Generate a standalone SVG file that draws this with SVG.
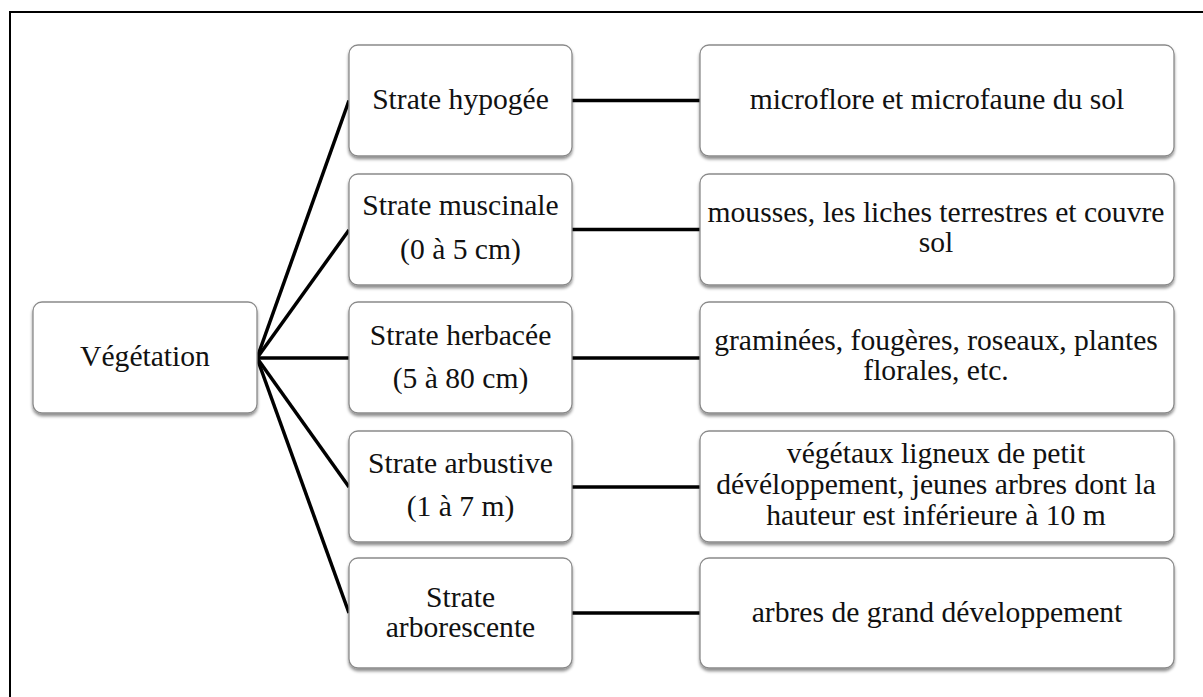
<svg xmlns="http://www.w3.org/2000/svg" width="1203" height="697" viewBox="0 0 1203 697">
<defs>
<filter id="sh" x="-5%" y="-10%" width="110%" height="125%">
<feDropShadow dx="0" dy="2.5" stdDeviation="1.6" flood-color="#000" flood-opacity="0.45"/>
</filter>
</defs>
<style>
.box{fill:#fff;stroke:#8a8a8a;stroke-width:1.3;filter:url(#sh)}
.t{font-size:29.6px;fill:#111;text-anchor:middle}
.c{stroke:#000;stroke-width:3.5;fill:none;stroke-linecap:butt}
</style>
<rect x="10" y="12" width="1230" height="720" fill="#fff" stroke="#000" stroke-width="2"/>
<g id="connectors">
<line class="c" x1="257" y1="358" x2="349" y2="100.5"/>
<line class="c" x1="257" y1="358" x2="349" y2="230"/>
<line class="c" x1="257" y1="358" x2="349" y2="358"/>
<line class="c" x1="257" y1="358" x2="349" y2="487"/>
<line class="c" x1="257" y1="358" x2="349" y2="613"/>
<line class="c" x1="572" y1="100.5" x2="700" y2="100.5"/>
<line class="c" x1="572" y1="229.5" x2="700" y2="229.5"/>
<line class="c" x1="572" y1="358" x2="700" y2="358"/>
<line class="c" x1="572" y1="487" x2="700" y2="487"/>
<line class="c" x1="572" y1="613" x2="700" y2="613"/>
</g>
<g font-family="'Liberation Serif', 'Times New Roman', 'DejaVu Serif', serif">
<g id="vegetation">
<rect class="box" x="33" y="302" width="224" height="111" rx="9"/>
<text class="t" x="145" y="366">Végétation</text>
</g>
<g id="hypogee">
<rect class="box" x="349" y="45" width="223" height="111" rx="9"/>
<text class="t" x="460.5" y="109">Strate hypogée</text>
</g>
<g id="muscinale">
<rect class="box" x="349" y="174" width="223" height="111" rx="9"/>
<text class="t" x="460.5" y="215">Strate muscinale</text>
<text class="t" x="460.5" y="259">(0 à 5 cm)</text>
</g>
<g id="herbacee">
<rect class="box" x="349" y="302" width="223" height="111" rx="9"/>
<text class="t" x="460.5" y="345">Strate herbacée</text>
<text class="t" x="460.5" y="388">(5 à 80 cm)</text>
</g>
<g id="arbustive">
<rect class="box" x="349" y="431" width="223" height="111" rx="9"/>
<text class="t" x="460.5" y="473">Strate arbustive</text>
<text class="t" x="460.5" y="516">(1 à 7 m)</text>
</g>
<g id="arborescente">
<rect class="box" x="349" y="558" width="223" height="110" rx="9"/>
<text class="t" x="460.5" y="607">Strate</text>
<text class="t" x="460.5" y="637">arborescente</text>
</g>
<g id="d1">
<rect class="box" x="700" y="45" width="474" height="111" rx="9"/>
<text class="t" x="937" y="109">microflore et microfaune du sol</text>
</g>
<g id="d2">
<rect class="box" x="700" y="174" width="474" height="111" rx="9"/>
<text class="t" x="936" y="222">mousses, les liches terrestres et couvre</text>
<text class="t" x="936" y="252">sol</text>
</g>
<g id="d3">
<rect class="box" x="700" y="302" width="474" height="111" rx="9"/>
<text class="t" x="936" y="350">graminées, fougères, roseaux, plantes</text>
<text class="t" x="936" y="380">florales, etc.</text>
</g>
<g id="d4">
<rect class="box" x="700" y="431" width="474" height="111" rx="9"/>
<text class="t" x="936" y="463">végétaux ligneux de petit</text>
<text class="t" x="936" y="494">dévéloppement, jeunes arbres dont la</text>
<text class="t" x="936" y="525">hauteur est inférieure à 10 m</text>
</g>
<g id="d5">
<rect class="box" x="700" y="558" width="474" height="110" rx="9"/>
<text class="t" x="937" y="622">arbres de grand développement</text>
</g>
</g>
</svg>
